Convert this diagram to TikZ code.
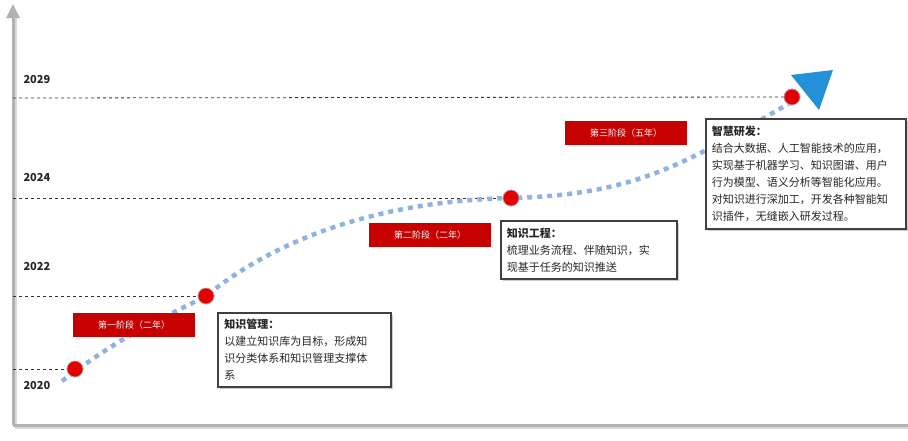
\documentclass[tikz,border=0pt]{standalone}
\usepackage{fontspec}
\setmainfont{Noto Sans CJK SC}
\begin{document}
\begin{tikzpicture}[x=1pt,y=-1pt,
  guide/.style={dashed,black!80,line width=0.8pt},
  year/.style={font=\fontsize{11}{13}\selectfont\bfseries,text=black!85,anchor=west},
  dot/.style={circle,fill=red!90!black,draw=black!30,line width=0.6pt,minimum size=16pt,inner sep=0pt},
  banner/.style={fill=red!78!black,text=white,minimum width=122pt,minimum height=24pt,inner sep=0pt,font=\fontsize{9}{11}\selectfont},
  infobox/.style={draw=black!75,line width=1.8pt,fill=white,anchor=north west,align=left,inner sep=5pt,font=\fontsize{11}{17}\selectfont,text=black!85,
    drop shadow/.style={}},
  axis/.style={black!30,line width=3pt}]
\useasboundingbox (0,0) rectangle (908,440);
% axes
\draw[black!15,line width=3pt] (15,427) -- (15,14);
\draw[black!15,line width=3pt] (15,427) -- (908,427);
\draw[axis] (13,425) -- (13,16);
\draw[axis] (13,425) -- (908,425);
\fill[black!30] (6,18) -- (13,4) -- (20,18) -- cycle;
% dots
\node[dot] (d1) at (75,369) {};
\node[dot] (d2) at (206,296) {};
\node[dot] (d3) at (511,198) {};
\node[dot] (d4) at (792,97) {};
% guides
\coordinate (g1) at (13,369); \coordinate (g2) at (13,296);
\coordinate (g3) at (13,198); \coordinate (g4) at (13,98);
\draw[guide] (g1) -- (d1.west);
\draw[guide] (g2) -- (d2.west);
\draw[guide] (g3) -- (d3.west);
\draw[guide] (g4) -- (d4.west);
\node[year] at (20,385) {2020};
\node[year] at (20,266) {2022};
\node[year] at (20,178) {2024};
\node[year] at (20,80) {2029};
% curve
\coordinate (c0) at (62,381);
\coordinate (c5) at (790,103);
\begin{scope}[on background layer/.style={}]
\draw[cyan!55!blue!45,line width=4.5pt,dash pattern=on 5pt off 5pt]
  (c0) .. controls (130,330) and (160,320) .. (d2.center)
  .. controls (300,220) and (420,200) .. (d3.center)
  .. controls (640,195) and (690,160) .. (c5);
\end{scope}
\node[dot] at (d1) {};\node[dot] at (d2) {};\node[dot] at (d3) {};\node[dot] at (d4) {};
\fill[cyan!70!blue!90] (791,75) -- (833,70) -- (819,110) -- cycle;
% banners
\node[banner] (b1) at (134,325) {第一阶段（二年）};
\node[banner] (b2) at (430,235) {第二阶段（二年）};
\node[banner] (b3) at (626,133) {第三阶段（五年）};
% boxes
\fill[black!20] (220,315) rectangle (393,389);
\node[infobox,minimum width=173pt,minimum height=74pt,text width=160pt] (x1) at (217,312)
 {\textbf{知识管理：}\\以建立知识库为目标，形成知\\识分类体系和知识管理支撑体\\系};
\fill[black!20] (503,223) rectangle (679,281);
\node[infobox,minimum width=176pt,minimum height=58pt,text width=164pt] (x2) at (500,220)
 {\textbf{知识工程：}\\梳理业务流程、伴随知识，实\\现基于任务的知识推送};
\fill[black!20] (708,121) rectangle (908,231);
\node[infobox,minimum width=200pt,minimum height=110pt,text width=188pt] (x3) at (705,118)
 {\textbf{智慧研发：}\\结合大数据、人工智能技术的应用，\\实现基于机器学习、知识图谱、用户\\行为模型、语义分析等智能化应用。\\对知识进行深加工，开发各种智能知\\识插件，无缝嵌入研发过程。};
\end{tikzpicture}
\end{document}
